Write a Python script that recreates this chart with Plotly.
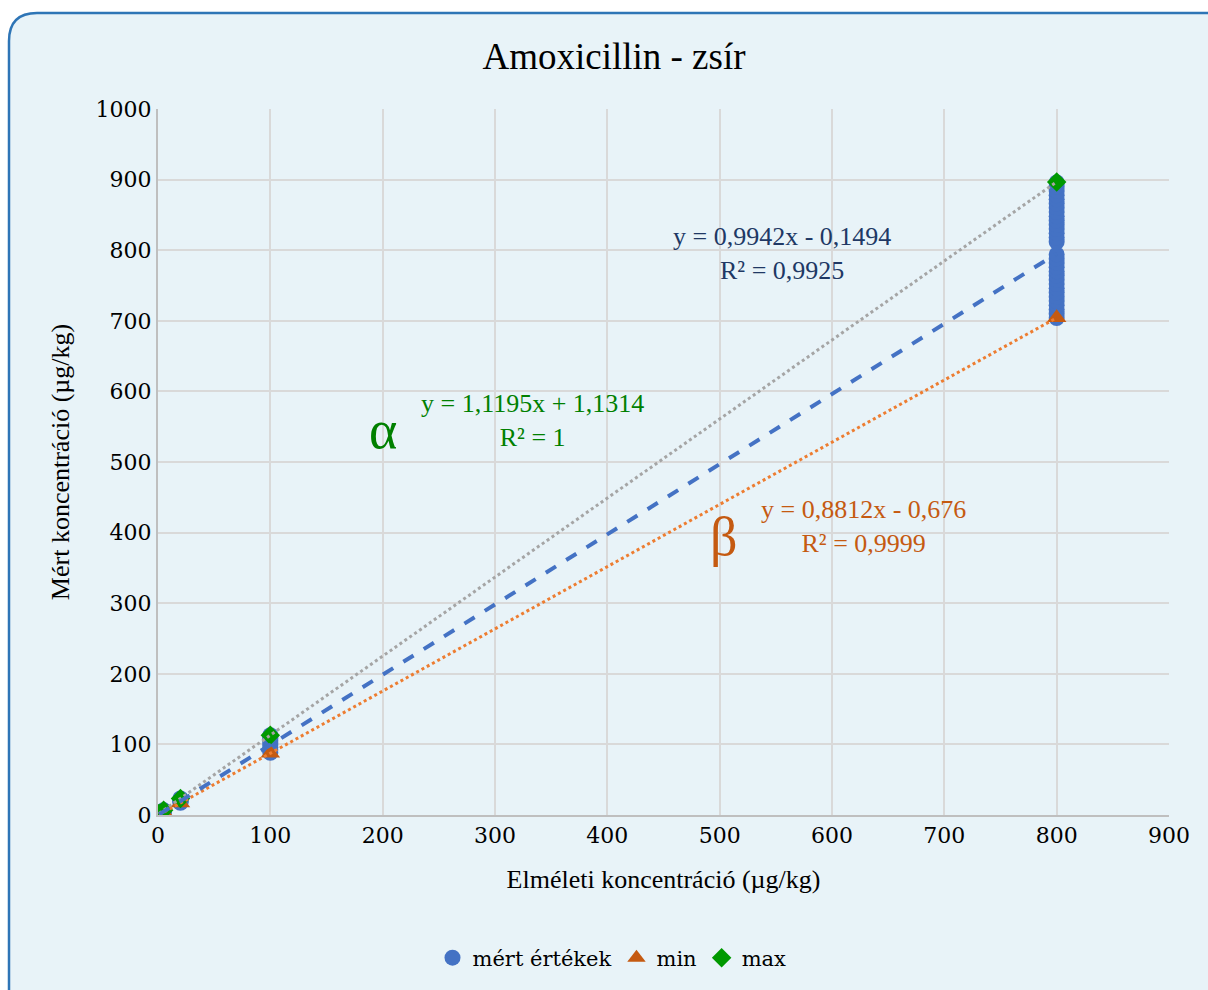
import plotly.graph_objects as go

# Theoretical concentrations (µg/kg)
levels = [1, 5, 20, 100, 800]

# Measured values per level
measured = {
    1: [0.6, 1.0, 1.4, 1.8, 2.1],
    5: [4.0, 4.6, 5.1, 5.6, 6.2, 6.6],
    20: [17.3, 18.4, 19.5, 20.4, 21.6, 22.7, 23.4],
    100: [88, 92, 96, 99, 102, 105, 108, 111, 113],
    800: [704, 710, 716, 722, 728, 734, 740, 746, 752, 758, 764, 770, 776,
          782, 788, 794, 812, 818, 824, 830, 836, 842, 848, 854, 860, 866,
          872, 878, 884, 890, 896],
}

# Lowest and highest measured value per level
min_vals = [0.2, 3.7, 17.0, 87.4, 704.3]
max_vals = [2.3, 6.7, 23.5, 113.1, 896.7]

# Linear trendlines: (slope, intercept)
fit_all = (0.9942, -0.1494)
fit_min = (0.8812, -0.676)
fit_max = (1.1195, 1.1314)

x_meas = [lv for lv in levels for _ in measured[lv]]
y_meas = [v for lv in levels for v in measured[lv]]

FONT = "Liberation Serif"
FONT_SMALL = "DejaVu Serif"
BG = "#E8F3F8"

fig = go.Figure()

fig.add_trace(go.Scatter(
    x=x_meas, y=y_meas, mode="markers", name="mért értékek",
    marker=dict(symbol="circle", size=16, color="#4472C4"),
))
fig.add_trace(go.Scatter(
    x=levels, y=min_vals, mode="markers", name="min",
    marker=dict(symbol="triangle-up", size=17, color="#C55A11"),
))
fig.add_trace(go.Scatter(
    x=levels, y=max_vals, mode="markers", name="max",
    marker=dict(symbol="diamond", size=15, color="#009900"),
))

x0, x1 = min(levels), max(levels)


def trend(fit):
    a, b = fit
    return [x0, x1], [a * x0 + b, a * x1 + b]


tx, ty = trend(fit_max)
fig.add_trace(go.Scatter(x=tx, y=ty, mode="lines", showlegend=False, hoverinfo="skip",
                         line=dict(color="#A5A5A5", width=3, dash="dot")))
tx, ty = trend(fit_min)
fig.add_trace(go.Scatter(x=tx, y=ty, mode="lines", showlegend=False, hoverinfo="skip",
                         line=dict(color="#ED7D31", width=3, dash="dot")))
tx, ty = trend(fit_all)
fig.add_trace(go.Scatter(x=tx, y=ty, mode="lines", showlegend=False, hoverinfo="skip",
                         line=dict(color="#4472C4", width=4, dash="dash")))

W, H = 1208, 990
ML, MR, MT, MB = 158, 39, 109, 175
PW, PH = W - ML - MR, H - MT - MB


def px(x):
    return (x - ML) / PW


def py(y):
    return (H - MB - y) / PH


# Rounded card border (extends past the right and bottom edges)
L, T, R, B, rad = 9, 13, 1240, 1020, 28
path = (f"M {px(L)},{py(B)} L {px(L)},{py(T + rad)} "
        f"Q {px(L)},{py(T)} {px(L + rad)},{py(T)} "
        f"L {px(R - rad)},{py(T)} Q {px(R)},{py(T)} {px(R)},{py(T + rad)} "
        f"L {px(R)},{py(B)} Z")
shapes = [dict(type="path", xref="paper", yref="paper", path=path,
               fillcolor=BG, line=dict(color="#2E75B6", width=2.5), layer="below")]


def eq(a, b, r2):
    sign = "+" if b >= 0 else "-"
    fmt = lambda v: f"{v:g}".replace(".", ",")
    return f"y = {fmt(a)}x {sign} {fmt(abs(b))}<br>R² = {fmt(r2)}"


annotations = [
    dict(x=555.5, y=795, text=eq(*fit_all, 0.9925), font=dict(color="#203864", size=26)),
    dict(x=333.8, y=559, text=eq(*fit_max, 1), font=dict(color="#008000", size=26)),
    dict(x=627.6, y=408, text=eq(*fit_min, 0.9999), font=dict(color="#C55A11", size=26)),
    dict(x=200, y=545, text="α", font=dict(color="#008000", size=54)),
    dict(x=503, y=394, text="β", font=dict(color="#C55A11", size=54)),
]
for a in annotations:
    a.update(xref="x", yref="y", showarrow=False, xanchor="center", yanchor="middle")
    a["font"]["family"] = FONT

axis_common = dict(
    showgrid=True, gridcolor="#D9D9D9", gridwidth=1.5,
    zeroline=False, showline=True, linecolor="#BFBFBF", linewidth=2, ticks="",
    tickfont=dict(family=FONT_SMALL, size=22, color="black"),
)

fig.update_layout(
    width=W, height=H,
    margin=dict(l=ML, r=MR, t=MT, b=MB),
    paper_bgcolor="white", plot_bgcolor=BG,
    font=dict(family=FONT, size=26),
    title=dict(text="Amoxicillin - zsír", x=(614 - ML) / PW, xref="paper", xanchor="center",
               y=1 - 56 / H, yanchor="middle",
               font=dict(size=37, family=FONT, color="#000000")),
    xaxis=dict(range=[0, 900], dtick=100, **axis_common,
               title=dict(text="Elméleti koncentráció (µg/kg)", standoff=22,
                          font=dict(size=26, family=FONT, color="#000000"))),
    yaxis=dict(range=[0, 1000], dtick=100, **axis_common,
               title=dict(text="Mért koncentráció (µg/kg)", standoff=18,
                          font=dict(size=26, family=FONT, color="#000000"))),
    legend=dict(orientation="h", x=px(612), xanchor="center", y=py(958), yanchor="middle",
                bgcolor="rgba(0,0,0,0)", font=dict(size=21, family=FONT_SMALL, color="black"),
                itemwidth=30, tracegroupgap=0),
    shapes=shapes,
    annotations=annotations,
)

fig.write_html("out.html")
